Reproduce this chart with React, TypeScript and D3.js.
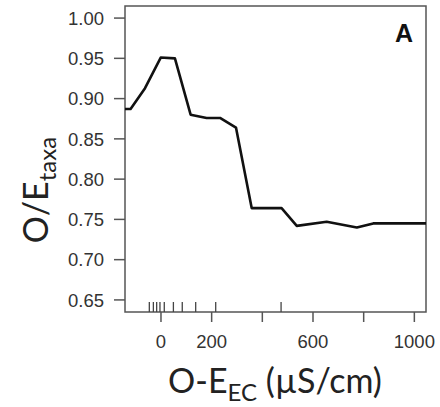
import React from 'react';
import * as d3 from 'd3';

// response curve
const curveX = [-142, -120, -63, -1, 55, 117, 180, 233, 296, 358, 476, 536, 654, 773, 838, 1046];
const curveY = [0.887, 0.887, 0.913, 0.951, 0.950, 0.880, 0.876, 0.876, 0.864, 0.764, 0.764, 0.742, 0.747, 0.740, 0.745, 0.745];

// rug of observed site values
const rugX = [-46, -30, -17, -4, 13, 49, 84, 137, 216, 474];

const yTicks = [0.65, 0.70, 0.75, 0.80, 0.85, 0.90, 0.95, 1.00];
const xTicks = [0, 200, 400, 600, 800, 1000];
const xTickLabels = ['0', '200', '', '600', '', '1000'];

const W = 440;
const H = 407;
const margin = { top: 6, right: 14, bottom: 95, left: 125 };

export default function App() {
  const x = d3.scaleLinear()
    .domain([-142, 1046])
    .range([margin.left, W - margin.right]);
  const y = d3.scaleLinear()
    .domain([0.635, 1.015])
    .range([H - margin.bottom, margin.top]);

  const line = d3.line<number>()
    .x((d, i) => x(curveX[i]))
    .y(d => y(d));

  const x0 = margin.left;
  const x1 = W - margin.right;
  const y0 = H - margin.bottom;
  const y1 = margin.top;
  const tickFont = '"Liberation Sans", Arial, sans-serif';
  const titleFont = 'Lato, "Open Sans", sans-serif';

  return (
    <svg width={W} height={H} style={{ position: 'absolute', left: 0, top: 0, background: '#fff' }}>
      {/* frame */}
      <rect x={x0} y={y1} width={x1 - x0} height={y0 - y1} fill="none" stroke="#555" strokeWidth={1.5} />

      {/* y axis */}
      {yTicks.map(t => (
        <g key={t}>
          <line x1={x0 - 11} x2={x0} y1={y(t)} y2={y(t)} stroke="#555" strokeWidth={1.5} />
          <text x={x0 - 21} y={y(t)} dy="0.36em" textAnchor="end" fontFamily={tickFont} fontSize={18.5} fill="#333">
            {d3.format('.2f')(t)}
          </text>
        </g>
      ))}

      {/* x axis */}
      {xTicks.map((t, i) => (
        <g key={t}>
          <line x1={x(t)} x2={x(t)} y1={y0} y2={y0 + 10} stroke="#555" strokeWidth={1.5} />
          {xTickLabels[i] && (
            <text x={x(t)} y={y0 + 36} textAnchor="middle" fontFamily={tickFont} fontSize={18.5} fill="#333">
              {xTickLabels[i]}
            </text>
          )}
        </g>
      ))}

      {/* rug */}
      {rugX.map((r, i) => (
        <line key={i} x1={x(r)} x2={x(r)} y1={y0} y2={y0 - 10} stroke="#444" strokeWidth={1.3} />
      ))}

      {/* curve */}
      <path d={line(curveY) || ''} fill="none" stroke="#111" strokeWidth={2.6} strokeLinejoin="round" />

      <text x={404} y={42} textAnchor="middle" fontFamily={tickFont} fontWeight="bold" fontSize={25} fill="#111">A</text>

      {/* axis titles */}
      <text x={275} y={393} textAnchor="middle" fontFamily={titleFont} fontSize={34} fill="#222">
        O-E<tspan fontSize={24} dy={8}>EC</tspan><tspan dy={-8}> (µS/cm)</tspan>
      </text>
      <text transform="translate(48,190) rotate(-90)" textAnchor="middle" fontFamily={titleFont} fontSize={34} fill="#222">
        O/E<tspan fontSize={24} dy={8}>taxa</tspan>
      </text>
    </svg>
  );
}
